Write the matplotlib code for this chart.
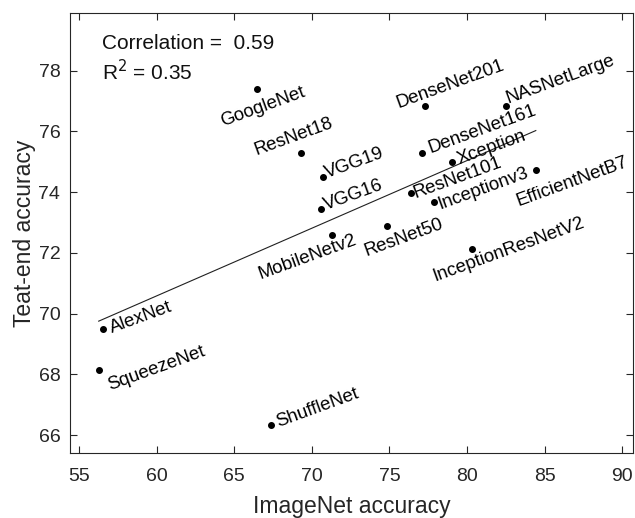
import numpy as np
import matplotlib
matplotlib.use("Agg")
import matplotlib.pyplot as plt

plt.rcParams['font.family'] = ['Liberation Sans', 'DejaVu Sans']

# data
models = ['GoogleNet', 'ResNet18', 'VGG19', 'VGG16', 'MobileNetv2', 'ResNet50',
          'ResNet101', 'Inceptionv3', 'DenseNet161', 'Xception', 'DenseNet201',
          'NASNetLarge', 'EfficientNetB7', 'InceptionResNetV2', 'AlexNet',
          'SqueezeNet', 'ShuffleNet']
imagenet_acc = [66.45, 69.3, 70.7, 70.57, 71.28, 74.87, 76.37, 77.87, 77.12,
                79.01, 77.29, 82.49, 84.43, 80.3, 56.57, 56.27, 67.37]
teat_acc = [77.39, 75.28, 74.51, 73.43, 72.59, 72.9, 73.98, 73.69, 75.28,
            75.0, 76.85, 76.85, 74.73, 72.12, 69.48, 68.16, 66.33]

# label offsets from each point (pixels, baseline start of rotated text)
label_dx = [-34, -44, 4, 5, -71, -21, 5, 6, 8, 8, -26, 2, -17, -37, 9, 11, 7]
label_dy = [-37, -2, -1, -1, -44, -30, -5, -8, 0, -2, -2, 2, -36, -32, -4, -21, -2]

x = np.array(imagenet_acc)
y = np.array(teat_acc)

fig = plt.figure(figsize=(6.35, 5.18), dpi=100)
ax = fig.add_axes([0.1102, 0.126, 0.8861, 0.8483])

# least squares line over the data range
coef = np.polyfit(x, y, 1)
xf = np.array([x.min(), x.max()])
ax.plot(xf, np.polyval(coef, xf), color='#202020', lw=0.8)

ax.plot(x, y, 'o', color='black', ms=4, mec='black')

for name, xi, yi, dx, dy in zip(models, x, y, label_dx, label_dy):
    ax.annotate(name, (xi, yi), xytext=(dx, dy), textcoords='offset pixels',
                rotation=20, rotation_mode='anchor', ha='left', va='baseline',
                fontsize=13.4, color='black')

ax.text(0.0563, 0.919, 'Correlation =  0.59', transform=ax.transAxes,
        fontsize=15, color='#111111')
ax.text(0.0563, 0.848, r'R$^2$ = 0.35', transform=ax.transAxes,
        fontsize=15, color='#111111')

ax.set_xlim(54.42, 90.67)
ax.set_ylim(65.42, 79.89)
ax.set_xticks(np.arange(55, 91, 5))
ax.set_yticks(np.arange(66, 79, 2))
ax.tick_params(direction='in', top=True, right=True, length=5, width=0.8,
               labelsize=14, colors='#262626')
ax.tick_params(axis='x', pad=11)
ax.tick_params(axis='y', pad=7)
for sp in ax.spines.values():
    sp.set_color('#262626')
    sp.set_linewidth(0.8)

ax.set_xlabel('ImageNet accuracy', fontsize=16.5, color='#262626', labelpad=7)
ax.set_ylabel('Teat-end accuracy', fontsize=16.5, color='#262626', labelpad=2)

fig.savefig('out.png', dpi=100)
